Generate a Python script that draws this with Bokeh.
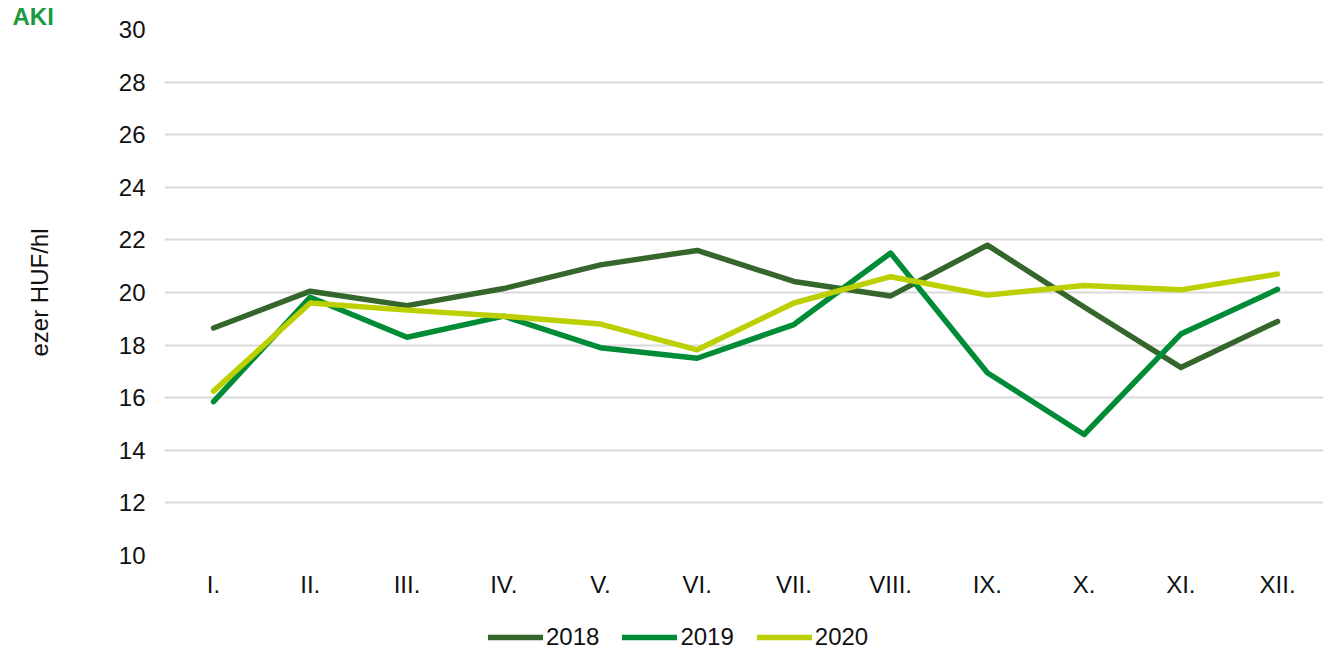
from bokeh.plotting import figure
from bokeh.layouts import column
from bokeh.models import Range1d, FixedTicker, Legend, LegendItem
from bokeh.embed import file_html
from bokeh.resources import INLINE

months = ["I.", "II.", "III.", "IV.", "V.", "VI.", "VII.", "VIII.", "IX.", "X.", "XI.", "XII."]
y2018 = [18.65, 20.05, 19.5, 20.15, 21.05, 21.6, 20.42, 19.87, 21.8, 19.45, 17.15, 18.9]
y2019 = [15.85, 19.82, 18.3, 19.1, 17.9, 17.5, 18.78, 21.5, 16.95, 14.6, 18.42, 20.12]
y2020 = [16.25, 19.6, 19.33, 19.1, 18.8, 17.82, 19.6, 20.6, 19.9, 20.27, 20.1, 20.7]
series_names = ["2018", "2019", "2020"]
colors = ["#35662B", "#008C36", "#BCCF00"]
y_ticks = [10, 12, 14, 16, 18, 20, 22, 24, 26, 28, 30]

xs = list(range(len(months)))
series = [y2018, y2019, y2020]
font = "Liberation Sans"

p = figure(width=1323, height=606, output_backend="svg", toolbar_location=None,
           x_range=Range1d(-0.507, 11.475), y_range=Range1d(10, 30),
           min_border_left=164, min_border_right=0, min_border_top=27, min_border_bottom=51,
           title="AKI")
p.outline_line_color = None
p.background_fill_color = "white"
p.border_fill_color = "white"

p.title.align = "left"
p.title.offset = -152
p.title.standoff = 0
p.title.text_font = font
p.title.text_font_size = "24px"
p.title.text_font_style = "bold"
p.title.text_color = "#1A9A3C"

for ys, c in zip(series, colors):
    p.line(xs, ys, line_color=c, line_width=5.5, line_join="round", line_cap="round")

p.xaxis.ticker = FixedTicker(ticks=xs)
p.xaxis.major_label_overrides = {i: m for i, m in enumerate(months)}
p.yaxis.ticker = FixedTicker(ticks=y_ticks)
for ax in [p.xaxis, p.yaxis]:
    ax.axis_line_color = None
    ax.major_tick_line_color = None
    ax.minor_tick_line_color = None
    ax.major_tick_out = 0
    ax.major_tick_in = 0
    ax.major_label_text_font = font
    ax.major_label_text_font_size = "24px"
    ax.major_label_text_color = "#111111"
p.xaxis.major_label_standoff = 15
p.yaxis.major_label_standoff = 19
p.yaxis.axis_label = "ezer HUF/hl"
p.yaxis.axis_label_text_font = font
p.yaxis.axis_label_text_font_size = "24px"
p.yaxis.axis_label_text_font_style = "normal"
p.yaxis.axis_label_text_color = "#111111"
p.yaxis.axis_label_standoff = 63

p.xgrid.grid_line_color = None
p.ygrid.grid_line_color = "#D9D9D9"
p.ygrid.grid_line_width = 2

# legend strip below the chart (its lines fall outside its 0..1 y range, only the legend shows)
lg = figure(width=1323, height=45, output_backend="svg", toolbar_location=None,
            x_range=Range1d(-0.507, 11.475), y_range=Range1d(0, 1),
            x_axis_location=None, y_axis_location=None,
            min_border_left=164, min_border_right=0, min_border_top=0, min_border_bottom=0)
lg.outline_line_color = None
lg.xgrid.grid_line_color = None
lg.ygrid.grid_line_color = None
lg_renderers = [lg.line(xs, ys, line_color=c, line_width=5.5, line_cap="round")
                for ys, c in zip(series, colors)]
legend = Legend(items=[LegendItem(label=n, renderers=[r]) for n, r in zip(series_names, lg_renderers)],
                orientation="horizontal", location=(324, 0), margin=0, padding=0,
                glyph_width=55, glyph_height=20, label_standoff=3, spacing=23,
                label_text_font=font, label_text_font_size="24px", label_text_color="#111111",
                border_line_color=None, background_fill_alpha=0)
lg.add_layout(legend, "center")

layout = column(p, lg, spacing=0)
open("out.html", "w").write(file_html(layout, INLINE))
